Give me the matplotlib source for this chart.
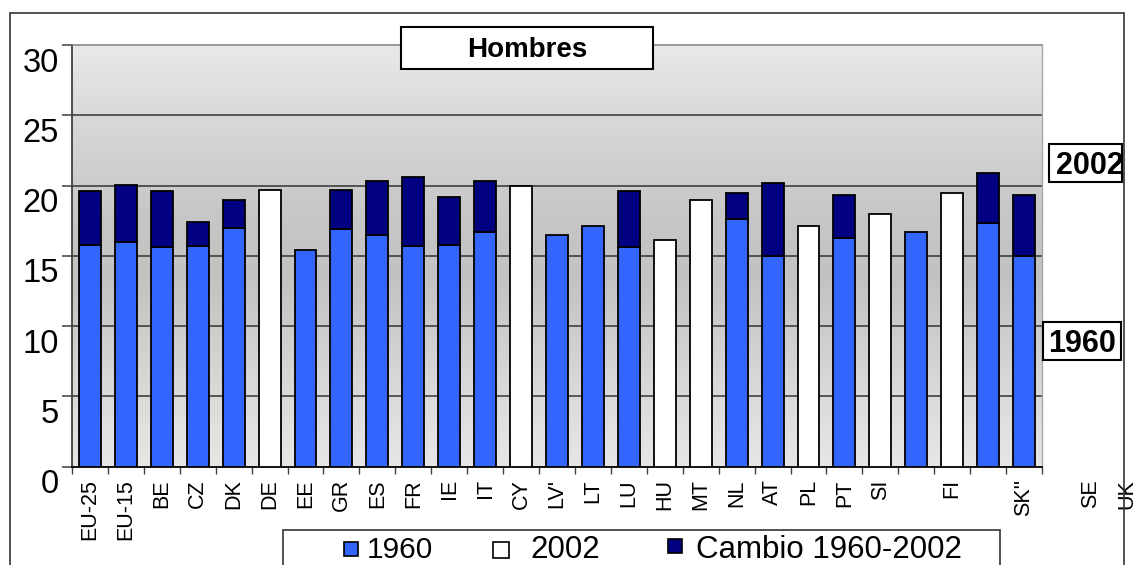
import numpy as np
import matplotlib
matplotlib.use("Agg")
import matplotlib.pyplot as plt
from matplotlib.patches import Rectangle
from matplotlib.transforms import ScaledTranslation

plt.rcParams['font.family'] = ['Liberation Sans', 'DejaVu Sans']

# ---- data ----
labels = ["EU-25", "EU-15", "BE", "CZ", "DK", "DE", "EE", "GR", "ES", "FR", "IE", "IT",
          "CY", "LV'", "LT", "LU", "HU", "MT", "NL", "AT", "PL", "PT", "SI", "", "FI", "", "SK''"]
extra_labels = ["SE", "UK"]
nan = np.nan
v1960 = np.array([15.8, 16.0, 15.6, 15.7, 17.0, nan, 15.45, 16.9, 16.5, 15.7, 15.8, 16.7,
                  nan, 16.5, 17.1, 15.6, nan, nan, 17.6, 15.0, nan, 16.25, nan, 16.7, nan, 17.35, 15.0])
v2002 = np.array([19.6, 20.05, 19.6, 17.4, 19.0, 19.7, nan, 19.7, 20.3, 20.6, 19.2, 20.3,
                  20.0, nan, nan, 19.6, 16.1, 19.0, 19.5, 20.2, 17.1, 19.35, 18.0, nan, 19.5, 20.9, 19.35])
yticks = [0, 5, 10, 15, 20, 25, 30]
legend_labels = ["1960", "2002", "Cambio 1960-2002"]
title = "Hombres"

C1960 = "#3366ff"
C2002 = "#ffffff"
CCHG = "#000080"

W, H = 1137, 565
fig = plt.figure(figsize=(W / 100, H / 100), dpi=100)
def fx(px): return px / W
def fy(py): return 1 - py / H

ax = fig.add_axes([fx(72), fy(466.7), (1042 - 72) / W, (466.7 - 45) / H])

n = len(labels)
x = np.arange(n)
has1960 = ~np.isnan(v1960)
has2002 = ~np.isnan(v2002)
stacked = has1960 & has2002
only2002 = ~has1960 & has2002
change = v2002 - v1960

bw = 0.61
ekw = dict(edgecolor="black", linewidth=1.3, zorder=3)
ax.bar(x[has1960], v1960[has1960], bw, color=C1960, **ekw)
ax.bar(x[stacked], change[stacked], bw, bottom=v1960[stacked], color=CCHG, **ekw)
ax.bar(x[only2002], v2002[only2002], bw, color=C2002, **ekw)

ax.set_xlim(-0.5, n - 0.5)
ax.set_ylim(0, 30)

# gradient background (bottom -> top)
t = np.linspace(0, 1, 300)
vals = np.interp(t, [0, 0.1, 0.45, 0.6, 0.8, 1.0], [230, 224, 194, 199, 214, 233]) / 255
grad = np.stack([vals, vals, vals], axis=-1).reshape(-1, 1, 3)
ax.imshow(grad, extent=[-0.5, n - 0.5, 0, 30], aspect="auto", origin="lower",
          interpolation="bilinear", zorder=0)

for yv in yticks[1:-1]:
    ax.axhline(yv, color="#333333", lw=1.1, zorder=1)

ax.spines["left"].set_color("#404040")
ax.spines["left"].set_linewidth(1.3)
ax.spines["bottom"].set_color("black")
ax.spines["bottom"].set_linewidth(1.3)
ax.spines["top"].set_color("#808080")
ax.spines["top"].set_linewidth(1.1)
ax.spines["right"].set_color("#a8a8a8")
ax.spines["right"].set_linewidth(1.0)

ax.set_yticks(yticks)
ax.set_yticklabels([])
ax.tick_params(axis="y", direction="out", length=7, width=1.1, color="#404040")
off = ScaledTranslation(-13 / 100, -18 / 100, fig.dpi_scale_trans)
for yv in yticks:
    ax.text(0, yv, str(yv), transform=ax.get_yaxis_transform() + off,
            ha="right", va="center", fontsize=23.5, clip_on=False)

ax.set_xticks(np.arange(n + 1) - 0.5)
ax.set_xticklabels([])
ax.tick_params(axis="x", which="major", direction="out", length=5, width=1.0, color="#404040")
ax.set_xticks(x, minor=True)
ax.set_xticklabels(labels, minor=True, rotation=90, fontsize=15.5)
ax.tick_params(axis="x", which="minor", length=0, pad=9)

offx = ScaledTranslation(0, -13 / 100, fig.dpi_scale_trans)
for i, lab in enumerate(extra_labels):
    ax.text(n + 0.85 + i, 0, lab, transform=ax.get_xaxis_transform() + offx,
            ha="center", va="top", rotation=90, fontsize=15.5, clip_on=False)

# outer frame
fig.add_artist(Rectangle((fx(10), -0.1), fx(1124) - fx(10), fy(13) + 0.1,
                         transform=fig.transFigure, fill=False, ec="#333333", lw=1.2, zorder=5))

# title box
fig.add_artist(Rectangle((fx(401), fy(69)), fx(653) - fx(401), fy(27) - fy(69),
                         transform=fig.transFigure, fc="white", ec="black", lw=1.5, zorder=10))
fig.text(fx(527), fy(50), title, ha="center", va="center", fontsize=20,
         fontweight="bold", zorder=11)

# right side year boxes
fig.add_artist(Rectangle((fx(1049), fy(182)), fx(1122) - fx(1049), fy(144) - fy(182),
                         transform=fig.transFigure, fc="white", ec="black", lw=1.5, zorder=10))
fig.text(fx(1090), fy(166), legend_labels[1], ha="center", va="center", fontsize=22,
         fontweight="bold", zorder=11)
fig.add_artist(Rectangle((fx(1043), fy(360)), fx(1121) - fx(1043), fy(322) - fy(360),
                         transform=fig.transFigure, fc="white", ec="black", lw=1.5, zorder=10))
fig.text(fx(1082), fy(344), legend_labels[0], ha="center", va="center", fontsize=22,
         fontweight="bold", zorder=11)

# legend box
fig.add_artist(Rectangle((fx(283), -0.1), fx(1000) - fx(283), fy(530) + 0.1,
                         transform=fig.transFigure, fc="white", ec="#333333", lw=1.2, zorder=10))
# (square left, square top, square size, colour, text left, baseline, fontsize)
entries = [(344, 542, 14, C1960, 367, 558, 21.5),
           (493, 542, 16, C2002, 530, 558, 22.5),
           (668, 539, 14, CCHG, 696, 558, 22.5)]
for (sx, sy, ss, col, tx, by, fs), lab in zip(entries, legend_labels):
    fig.add_artist(Rectangle((fx(sx), fy(sy + ss)), ss / W, ss / H, transform=fig.transFigure,
                             fc=col, ec="black", lw=1.2, zorder=11))
    fig.text(fx(tx), fy(by), lab, ha="left", va="baseline", fontsize=fs, zorder=11)

fig.savefig("out.png", dpi=100)
